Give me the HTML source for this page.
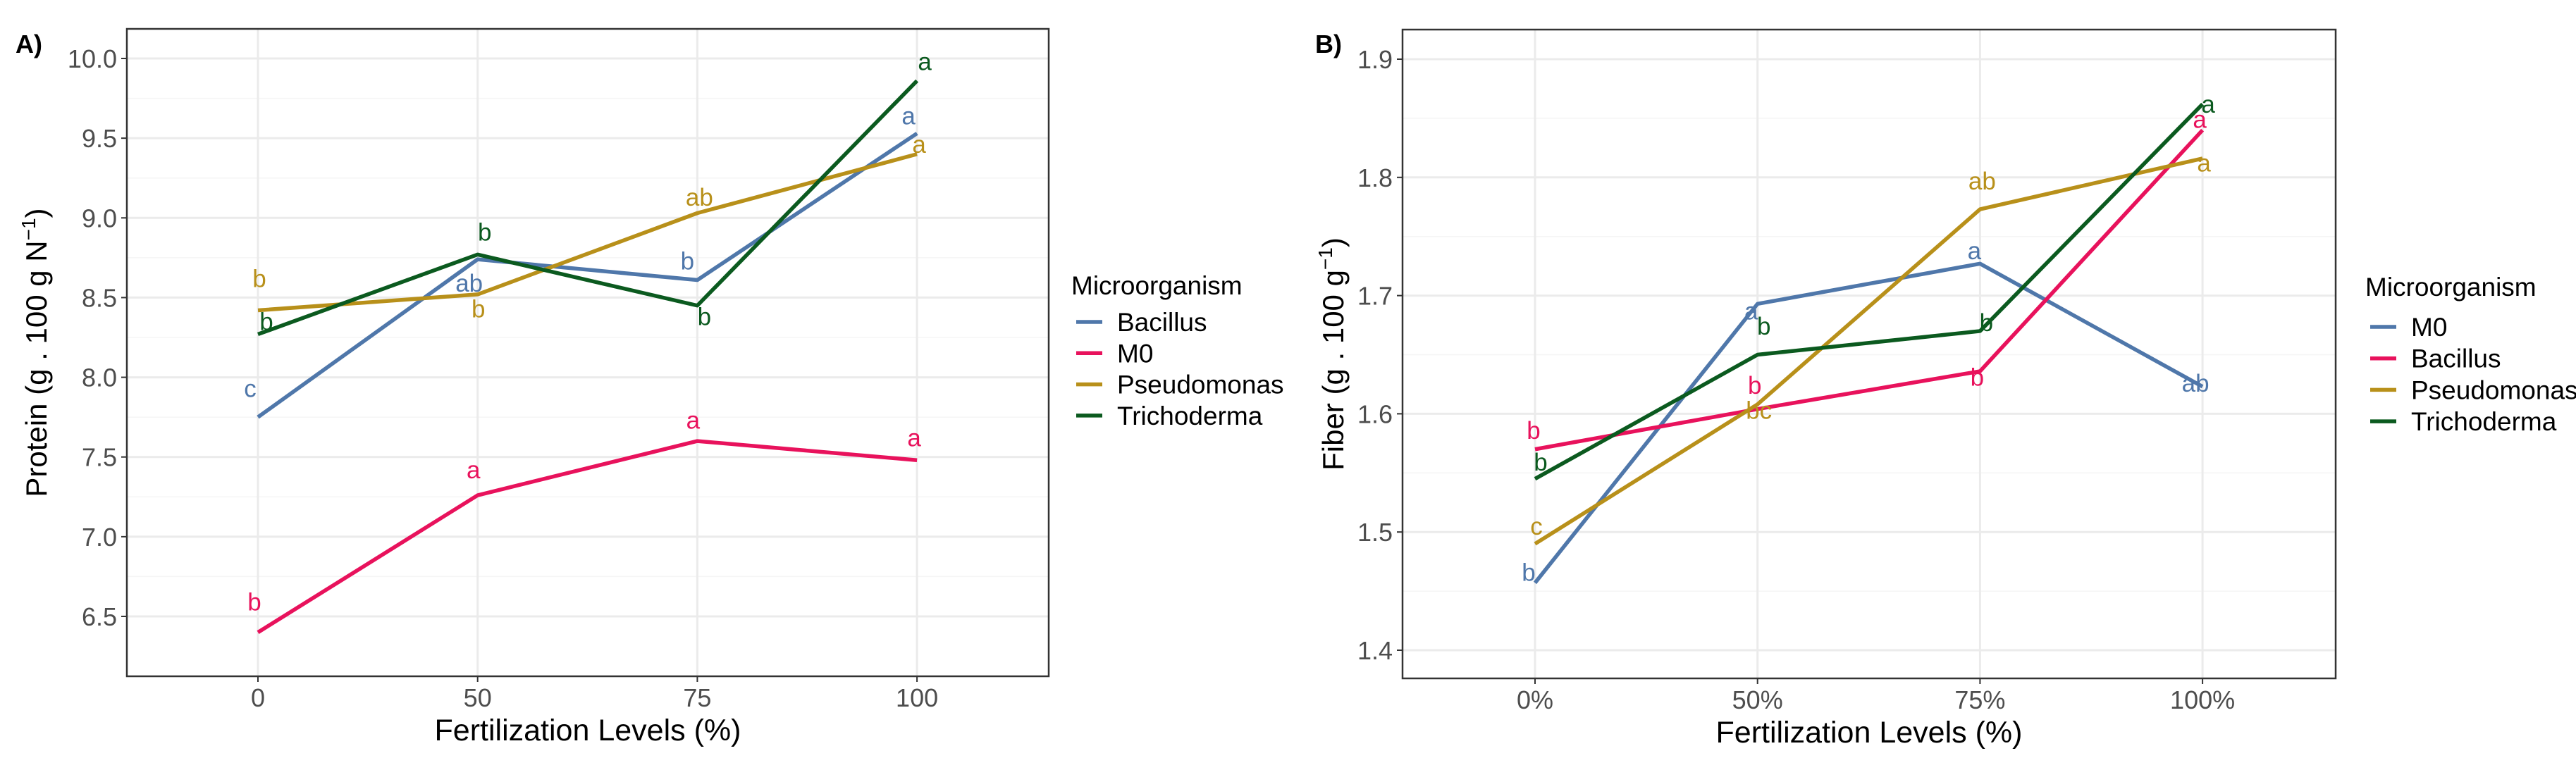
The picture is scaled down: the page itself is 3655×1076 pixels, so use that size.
<!DOCTYPE html>
<html><head><meta charset="utf-8"><style>
html,body{margin:0;padding:0;background:#fff;}
svg{display:block;font-family:"Liberation Sans",Arial,sans-serif;}
</style></head><body>
<svg id="fig" width="3655" height="1076" viewBox="0 0 3655 1076" xmlns="http://www.w3.org/2000/svg"></svg>
<script>
// ---- Panel A data ----
const catsA = ["0","50","75","100"];
const seriesNamesA = ["Bacillus","M0","Pseudomonas","Trichoderma"];
const bacillusA = [7.75, 8.74, 8.61, 9.53];
const m0A = [6.40, 7.26, 7.60, 7.48];
const pseudoA = [8.42, 8.52, 9.03, 9.40];
const trichoA = [8.27, 8.77, 8.45, 9.86];
const lettersBacA = ["c","ab","b","a"];
const lettersM0A = ["b","a","a","a"];
const lettersPseA = ["b","b","ab","a"];
const lettersTriA = ["b","b","b","a"];
const labelYBacA = [7.93, 8.59, 8.73, 9.64];
const labelYM0A = [6.59, 7.42, 7.73, 7.62];
const labelYPseA = [8.62, 8.43, 9.13, 9.46];
const labelYTriA = [8.35, 8.91, 8.38, 9.98];
const yTicksA = [6.5, 7.0, 7.5, 8.0, 8.5, 9.0, 9.5, 10.0];
const yTickLabelsA = ["6.5","7.0","7.5","8.0","8.5","9.0","9.5","10.0"];
// ---- Panel B data ----
const catsB = ["0%","50%","75%","100%"];
const seriesNamesB = ["M0","Bacillus","Pseudomonas","Trichoderma"];
const m0B = [1.457, 1.693, 1.727, 1.623];
const bacillusB = [1.570, 1.604, 1.636, 1.840];
const pseudoB = [1.490, 1.608, 1.773, 1.816];
const trichoB = [1.545, 1.650, 1.670, 1.862];
const lettersM0B = ["b","a","a","ab"];
const lettersBacB = ["b","b","b","a"];
const lettersPseB = ["c","bc","ab","a"];
const lettersTriB = ["b","b","b","a"];
const labelYM0B = [1.466, 1.687, 1.738, 1.626];
const labelYBacB = [1.586, 1.624, 1.631, 1.849];
const labelYPseB = [1.505, 1.603, 1.797, 1.812];
const labelYTriB = [1.559, 1.674, 1.677, 1.862];
const yTicksB = [1.4, 1.5, 1.6, 1.7, 1.8, 1.9];
const yTickLabelsB = ["1.4","1.5","1.6","1.7","1.8","1.9"];

const BLUE="#4f77aa", PINK="#e8125c", GOLD="#b8901a", GREEN="#0b5a1f";
const NS="http://www.w3.org/2000/svg";
const svg=document.getElementById('fig');
function mk(tag,attrs,parent,text){const e=document.createElementNS(NS,tag);for(const k in attrs)e.setAttribute(k,attrs[k]);if(text!==undefined)e.textContent=text;(parent||svg).appendChild(e);return e;}

function panel(cfg){
  const g=mk('g',{});
  
  
  const {L,R,T,B}=cfg.box;
  const y=v=>cfg.y0px+(v-cfg.y0)*(cfg.y1px-cfg.y0px)/(cfg.y1-cfg.y0);
  const x=i=>cfg.x0px+i*cfg.xstep;
  for(let i=0;i<cfg.yTicks.length-1;i++){
    const ym=y((cfg.yTicks[i]+cfg.yTicks[i+1])/2);
    const gl=mk('line',{x1:L,x2:R,y1:ym,y2:ym,stroke:'#f5f5f5','stroke-width':1.5},g);
    
    
  }
  cfg.yTicks.forEach((v,i)=>{
    const gl=mk('line',{x1:L,x2:R,y1:y(v),y2:y(v),stroke:'#ebebeb','stroke-width':3},g);
    
    
    const tk=mk('line',{x1:L-8,x2:L,y1:y(v),y2:y(v),stroke:'#333','stroke-width':2},g);
    
    
    const t=mk('text',{x:L-14,y:y(v)+13,'text-anchor':'end','font-size':36,fill:'#4d4d4d'},g,cfg.yTickLabels[i]);
    
    
  });
  cfg.cats.forEach((c,i)=>{
    const gl=mk('line',{x1:x(i),x2:x(i),y1:T,y2:B,stroke:'#ebebeb','stroke-width':3},g);
    
    
    const tk=mk('line',{x1:x(i),x2:x(i),y1:B,y2:B+8,stroke:'#333','stroke-width':2},g);
    
    
    const t=mk('text',{x:x(i),y:B+43,'text-anchor':'middle','font-size':36,fill:'#4d4d4d'},g,c);
    
    
  });
  const box=mk('rect',{x:L,y:T,width:R-L,height:B-T,fill:'none',stroke:'#333','stroke-width':2.5},g);
  
  
  cfg.series.forEach(s=>{
    const pts=s.vals.map((v,i)=>x(i)+','+y(v)).join(' ');
    const pl=mk('polyline',{points:pts,fill:'none',stroke:s.color,'stroke-width':5.5,'stroke-linejoin':'round'},g);
    
    
  });
  cfg.series.forEach(s=>{
    s.letters.forEach((l,i)=>{
      const t=mk('text',{x:x(i)+s.dx[i],y:y(s.ly[i])+12,'text-anchor':'middle','font-size':35,fill:s.color},g,l);
      
      
    });
  });
  const xt=mk('text',{x:(L+R)/2,y:B+91,'text-anchor':'middle','font-size':43,fill:'#000'},g,'Fertilization Levels (%)');
  
  
  const yt=mk('text',{x:0,y:0,'text-anchor':'middle','font-size':42,fill:'#000',transform:`translate(${cfg.ytx},${(T+B)/2}) rotate(-90)`},g);
  yt.innerHTML=cfg.ytitle;
  
  
  const pl=mk('text',{x:cfg.plx,y:75,'font-size':36,'font-weight':'bold',fill:'#000'},g,cfg.id+')');
  
  
  const lt=mk('text',{x:cfg.lg.x,y:cfg.lg.y,'font-size':37,fill:'#000'},g,'Microorganism');
  
  
  cfg.series.forEach((s,i)=>{
    const yy=cfg.lg.y0+i*cfg.lg.dy;
    const le=mk('g',{},g);
    
    
    mk('line',{x1:cfg.lg.x+7,x2:cfg.lg.x+44,y1:yy,y2:yy,stroke:s.color,'stroke-width':5.5},le);
    mk('text',{x:cfg.lg.x+65,y:yy+13,'font-size':37,fill:'#000'},le,s.name);
  });
}

panel({id:'A',box:{L:180,R:1488,T:41,B:960},y0:6.5,y1:10.0,y0px:875,y1px:83,x0px:366,xstep:311.7,
  cats:catsA,yTicks:yTicksA,yTickLabels:yTickLabelsA,ytx:66,plx:22,
  ytitle:'Protein (g . 100 g N<tspan dy="-16" font-size="28">−1</tspan><tspan dy="16">)</tspan>',
  lg:{x:1520,y:418,y0:457,dy:44.3},
  series:[
    {name:seriesNamesA[0],color:BLUE,vals:bacillusA,letters:lettersBacA,ly:labelYBacA,dx:[-11,-12,-14,-12]},
    {name:seriesNamesA[1],color:PINK,vals:m0A,letters:lettersM0A,ly:labelYM0A,dx:[-5,-6,-6,-4]},
    {name:seriesNamesA[2],color:GOLD,vals:pseudoA,letters:lettersPseA,ly:labelYPseA,dx:[2,1,3,3]},
    {name:seriesNamesA[3],color:GREEN,vals:trichoA,letters:lettersTriA,ly:labelYTriA,dx:[12,10,10,11]}
  ]});
panel({id:'B',box:{L:1990,R:3314,T:42,B:963},y0:1.4,y1:1.9,y0px:923,y1px:84,x0px:2178,xstep:315.7,
  cats:catsB,yTicks:yTicksB,yTickLabels:yTickLabelsB,ytx:1906,plx:1866,
  ytitle:'Fiber (g . 100 g<tspan dy="-16" font-size="28">−1</tspan><tspan dy="16">)</tspan>',
  lg:{x:3356,y:420,y0:464,dy:44.7},
  series:[
    {name:seriesNamesB[0],color:BLUE,vals:m0B,letters:lettersM0B,ly:labelYM0B,dx:[-9,-9,-8,-10]},
    {name:seriesNamesB[1],color:PINK,vals:bacillusB,letters:lettersBacB,ly:labelYBacB,dx:[-2,-4,-4,-4]},
    {name:seriesNamesB[2],color:GOLD,vals:pseudoB,letters:lettersPseB,ly:labelYPseB,dx:[2,2,3,2]},
    {name:seriesNamesB[3],color:GREEN,vals:trichoB,letters:lettersTriB,ly:labelYTriB,dx:[8,9,9,8]}
  ]});
</script>
</body></html>
